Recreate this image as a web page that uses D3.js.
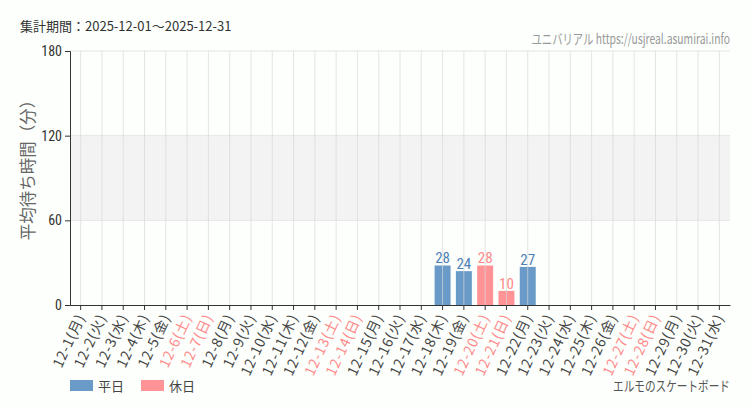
<!DOCTYPE html>
<html>
<head>
<meta charset="utf-8">
<script src="https://cdn.jsdelivr.net/npm/d3@7"></script>
<style>
  body { margin: 0; background: #fcfffc; }
  svg { font-family: "Noto Sans CJK JP", "Noto Sans", sans-serif; }
</style>
</head>
<body>
<svg></svg>
<script>
// data
const days = d3.range(1, 32).map(d => "12-" + d)
const weekdays = ["月","火","水","木","金","土","日"]
const dow = days.map((d, i) => weekdays[i % 7])
const holidayIdx = [5, 6, 12, 13, 19, 20, 26, 27]
const waitDays = ["12-18", "12-19", "12-20", "12-21", "12-22"]
const waitValues = [28, 24, 28, 10, 27]
const yTicks = [0, 60, 120, 180]

const width = 750, height = 410
const padLeft = 70, padRight = 730, padTop = 51, padBottom = 305
const blue = "#6a9ac7", pink = "#ff9396"
const blueText = "#4f7fb6", pinkText = "#ff8a8a"
const narrow = "'Liberation Sans Narrow', 'Roboto Condensed', sans-serif"

const svg = d3.select("svg").attr("width", width).attr("height", height)

const xScale = d3.scaleBand().domain(days).range([padLeft, padRight]).paddingInner(0.25).paddingOuter(0.125)
const xCenter = d => xScale(d) + xScale.bandwidth() / 2
const yScale = d3.scaleLinear().domain([0, 180]).range([padBottom, padTop])
const isHoliday = d => holidayIdx.includes(days.indexOf(d))

// shaded band 60-120
svg.append("rect").attr("x", padLeft).attr("width", padRight - padLeft)
    .attr("y", yScale(120)).attr("height", yScale(60) - yScale(120))
    .attr("fill", "#f3f3f3")

// horizontal grid
svg.append("g").selectAll("line").data(yTicks.slice(1)).enter().append("line")
    .attr("x1", padLeft).attr("x2", padRight)
    .attr("y1", d => yScale(d)).attr("y2", d => yScale(d))
    .attr("stroke", "#e4e4e4")

// bars
svg.append("g").selectAll("rect").data(waitDays).enter().append("rect")
    .attr("x", d => xScale(d))
    .attr("width", xScale.bandwidth())
    .attr("y", (d, i) => yScale(waitValues[i]))
    .attr("height", (d, i) => yScale(0) - yScale(waitValues[i]))
    .attr("fill", d => isHoliday(d) ? pink : blue)

// vertical grid (drawn over bars, faint)
svg.append("g").selectAll("line").data(days).enter().append("line")
    .attr("x1", d => xCenter(d)).attr("x2", d => xCenter(d))
    .attr("y1", padTop).attr("y2", padBottom)
    .attr("stroke", "#d8d8d8").attr("stroke-opacity", 0.7)

// value labels
svg.append("g").selectAll("text").data(waitDays).enter().append("text")
    .attr("x", d => xCenter(d))
    .attr("y", (d, i) => yScale(waitValues[i]) - 2)
    .attr("text-anchor", "middle")
    .attr("font-size", 15)
    .attr("font-family", narrow)
    .attr("fill", d => isHoliday(d) ? pinkText : blueText)
    .text((d, i) => waitValues[i])

// axes
let yAxis = d3.axisLeft(yScale).tickValues(yTicks).tickSize(5).tickPadding(3)
let yG = svg.append("g").attr("transform", "translate(" + padLeft + ",0)").call(yAxis)
yG.selectAll("text").attr("font-size", 14).attr("fill", "#333")
    .attr("font-family", narrow)
yG.selectAll("path,line").attr("stroke", "#333")

let xAxis = d3.axisBottom(xScale).tickSize(5).tickSizeOuter(0).tickFormat(d => "")
let xG = svg.append("g").attr("transform", "translate(0," + padBottom + ")").call(xAxis)
xG.selectAll("path,line").attr("stroke", "#333")

svg.append("g").selectAll("text").data(days).enter().append("text")
    .attr("transform", d => "translate(" + (xCenter(d) + 5) + "," + (padBottom + 12) + ") rotate(-65)")
    .attr("text-anchor", "end")
    .attr("font-size", 14)
    .attr("letter-spacing", 0.8)
    .attr("fill", d => isHoliday(d) ? pinkText : "#444")
    .text((d, i) => d + "(" + dow[i] + ")")

// y label
svg.append("text")
    .attr("transform", "translate(34,166) rotate(-90)")
    .attr("text-anchor", "middle")
    .attr("font-size", 16.5)
    .attr("fill", "#666")
    .text("平均待ち時間（分）")

// header texts
svg.append("text").attr("x", 20).attr("y", 31).attr("font-size", 13).attr("fill", "#333")
    .text("集計期間：2025-12-01～2025-12-31")
svg.append("text")
    .attr("transform", "translate(730,44) scale(0.74,1)")
    .attr("text-anchor", "end")
    .attr("font-size", 14).attr("fill", "#999")
    .text("ユニバリアル  https://usjreal.asumirai.info")

// legend
const legendItems = [["平日", blue, 70], ["休日", pink, 141]]
legendItems.forEach(([label, color, x]) => {
    svg.append("rect").attr("x", x).attr("y", 380).attr("width", 23).attr("height", 11).attr("fill", color)
    svg.append("text").attr("x", x + 28).attr("y", 391).attr("font-size", 13).attr("fill", "#444").text(label)
})
svg.append("text")
    .attr("transform", "translate(730,391) scale(0.76,1)")
    .attr("text-anchor", "end")
    .attr("font-size", 14).attr("fill", "#555")
    .text("エルモのスケートボード")
</script>
</body>
</html>
